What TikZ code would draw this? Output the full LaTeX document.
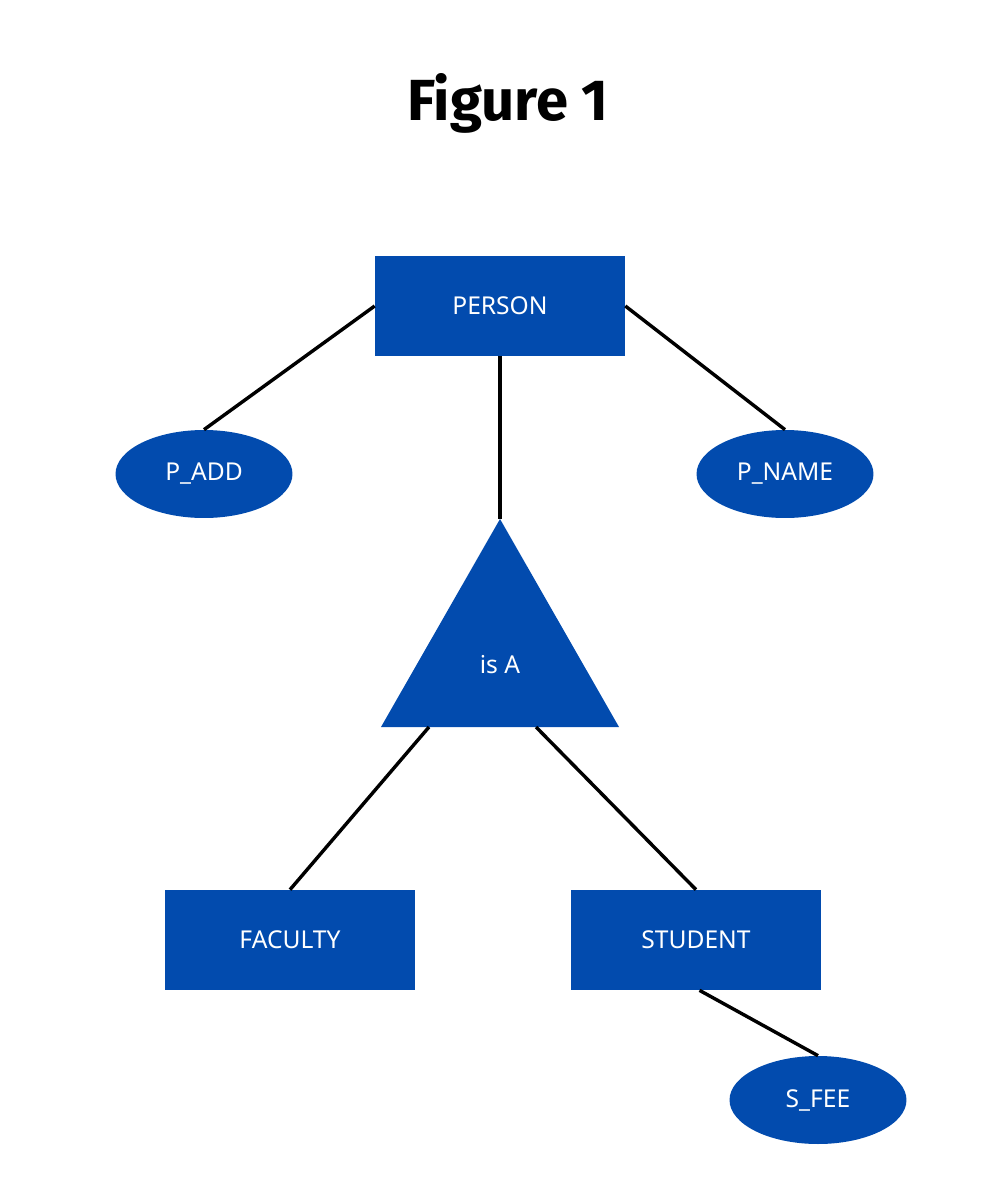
\documentclass[tikz,border=0pt]{standalone}
\usepackage{fontspec}
\setmainfont{Noto Sans}
\newfontfamily\titlefont{Fira Sans}
\usetikzlibrary{shapes.geometric}
\definecolor{erblue}{RGB}{2,75,174}
\tikzset{
  entity/.style={rectangle, fill=erblue, text=white, minimum width=5cm, minimum height=2cm, inner sep=0pt, font=\fontsize{14}{16}\selectfont},
  attr/.style={ellipse, fill=erblue, text=white, minimum width=3.54cm, minimum height=1.76cm, inner sep=0pt, font=\fontsize{14}{16}\selectfont},
  link/.style={line width=1.95pt, black},
  lbl/.style={text=white, font=\fontsize{14}{16}\selectfont}
}
\begin{document}
\begin{tikzpicture}[x=0.02cm, y=-0.02cm]
\useasboundingbox (0,0) rectangle (1000,1200);
\node[font=\titlefont\fontsize{33}{40}\selectfont\bfseries] (title) at (508,103) {Figure 1};
\node[entity] (person) at (500,306) {PERSON};
\node[attr] (padd) at (204,474) {P\_ADD};
\node[attr] (pname) at (785,474) {P\_NAME};
\coordinate (apex) at (500,519);
\coordinate (bl) at (381,727);
\coordinate (br) at (619,727);
\fill[erblue] (apex) -- (bl) -- (br) -- cycle;
\node[lbl] (isa) at (500,665) {is A};
\coordinate (tl) at (429,727);
\coordinate (tr) at (536,727);
\node[entity] (faculty) at (290,940) {FACULTY};
\node[entity] (student) at (696,940) {STUDENT};
\node[attr] (sfee) at (818,1100) {S\_FEE};
\draw[link] (person.west) -- (padd.north);
\draw[link] (person.east) -- (pname.north);
\draw[link] (person.south) -- (apex);
\draw[link] (tl) -- (faculty.north);
\draw[link] (tr) -- (student.north);
\draw[link] ([xshift=2pt]student.south) -- (sfee.north);
\end{tikzpicture}
\end{document}
